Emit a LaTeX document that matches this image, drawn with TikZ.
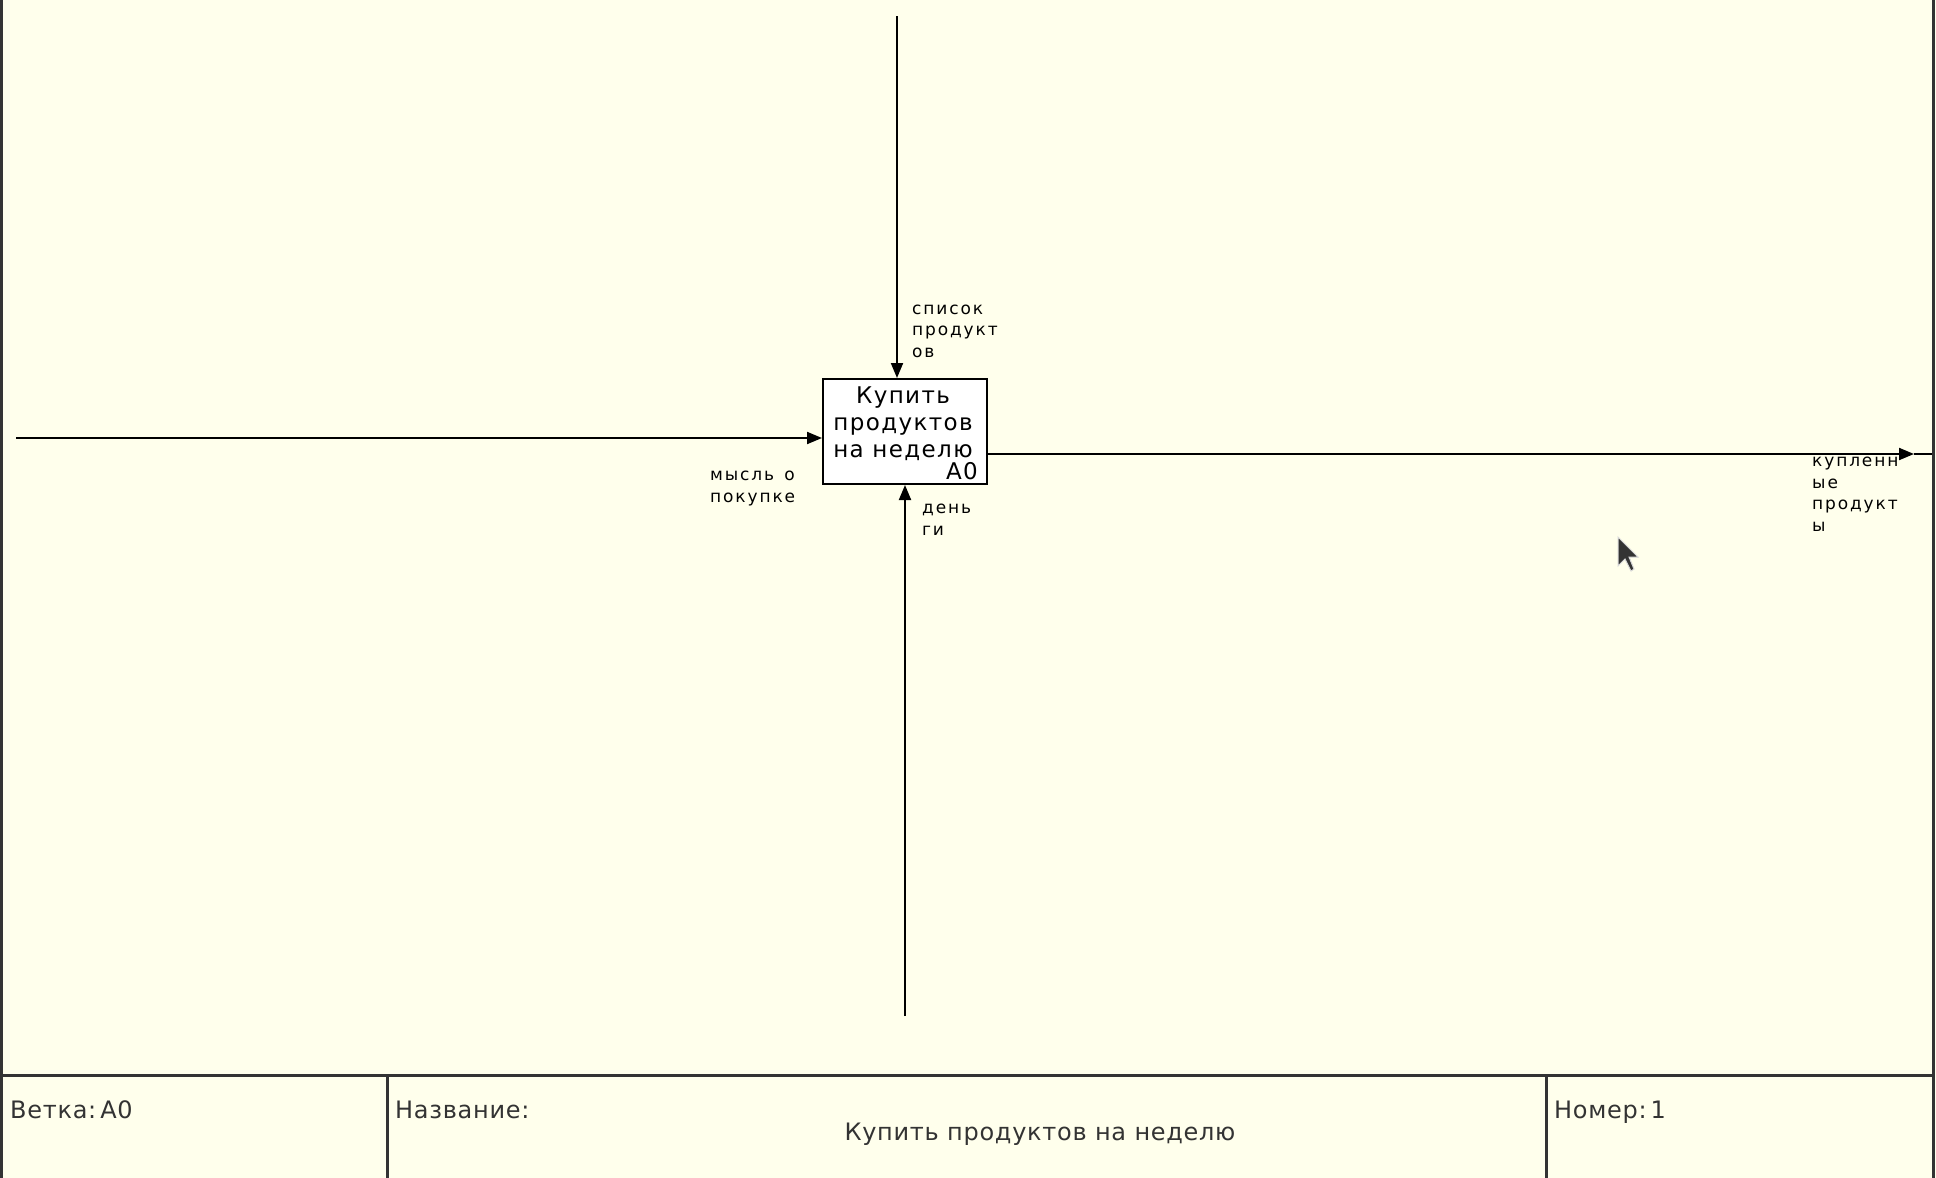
\documentclass[tikz,border=0pt]{standalone}
\usepackage{fontspec}
\setmainfont{DejaVu Sans}
\newfontfamily\lblfont[LetterSpace=11]{DejaVu Sans}
\newfontfamily\boxfont[LetterSpace=6]{DejaVu Sans}
\newfontfamily\footfont[LetterSpace=3]{DejaVu Sans}
\usetikzlibrary{arrows.meta}
\definecolor{bgyellow}{RGB}{255,255,236}
\definecolor{framegray}{RGB}{51,51,51}
\tikzset{
  arr/.style={line width=2pt,black,-{Triangle[length=15pt,width=12pt]}},
  plain/.style={line width=2pt,black},
  framel/.style={line width=3pt,framegray},
  lbl/.style={anchor=base west,inner sep=0pt,align=left,font=\lblfont\fontsize{17}{21.5}\selectfont},
  boxtxt/.style={inner sep=0pt,align=center,font=\boxfont\fontsize{23}{27}\selectfont},
  foottxt/.style={anchor=base west,inner sep=0pt,font=\footfont\fontsize{24}{28}\selectfont,text=framegray},
  actbox/.style={draw=black,line width=2pt,fill=white,minimum width=164pt,minimum height=105pt,inner sep=0pt}
}
\begin{document}
\begin{tikzpicture}[x=1pt,y=-1pt]
\useasboundingbox[fill=bgyellow] (0,0) rectangle (1936,1178);
% frame
\coordinate (fTL) at (1.5,0);
\coordinate (fBL) at (1.5,1178);
\coordinate (fTR) at (1933,0);
\coordinate (fBR) at (1933,1178);
\coordinate (hL) at (0,1075);
\coordinate (hR) at (1933,1075);
\coordinate (d1t) at (387,1075);
\coordinate (d1b) at (387,1178);
\coordinate (d2t) at (1546,1075);
\coordinate (d2b) at (1546,1178);
\draw[framel] (fTL) -- (fBL);
\draw[framel] (fTR) -- (fBR);
\draw[framel] (hL) -- (hR);
\draw[framel] (d1t) -- (d1b);
\draw[framel] (d2t) -- (d2b);
\node[foottxt] (vetka) at (10,1118) {Ветка:\,A0};
\node[foottxt] (nazv) at (395,1118) {Название:};
\node[foottxt] (nomer) at (1554,1118) {Номер:\,1};
\node[inner sep=0pt,anchor=base,font=\footfont\fontsize{24}{28}\selectfont,text=framegray] (title) at (1040,1140) {Купить продуктов на неделю};
% activity box
\node[actbox] (A0) at (905,431.5) {};
\node[boxtxt] (A0t) at (903,424) {Купить\\продуктов\\на неделю};
\node[inner sep=0pt,anchor=base east,font=\boxfont\fontsize{23}{27}\selectfont] (A0n) at (978,479) {A0};
% arrows
\coordinate (ctrlS) at (897,16);
\draw[arr] (ctrlS) -- (ctrlS |- A0.north);
\coordinate (inS) at (16,438);
\draw[arr] (inS) -- (inS -| A0.west);
\coordinate (mechS) at (905,1016);
\draw[arr] (mechS) -- (mechS |- A0.south);
\coordinate (outTip) at (1914,454);
\coordinate (outEnd) at (1932,454);
\draw[arr] (A0.east |- outTip) -- (outTip);
\draw[plain] (outTip) -- (outEnd);
% labels (anchored at the baseline of their last line)
\node[lbl] (lctrl) at (912,357) {список\\продукт\\ов};
\node[lbl] (lin) at (710,502) {мысль\, о\\покупке};
\node[lbl] (lmech) at (922,535) {день\\ги};
\node[lbl] (lout) at (1812,531) {купленн\\ые\\продукт\\ы};
% cursor
\draw[fill=black!80,draw=white!85!black,line width=1pt,shift={(1618,537)}]
  (0,0) -- (0,29) -- (7,22) -- (13,34) -- (16,32) -- (11,20) -- (20,20) -- cycle;
\end{tikzpicture}
\end{document}
